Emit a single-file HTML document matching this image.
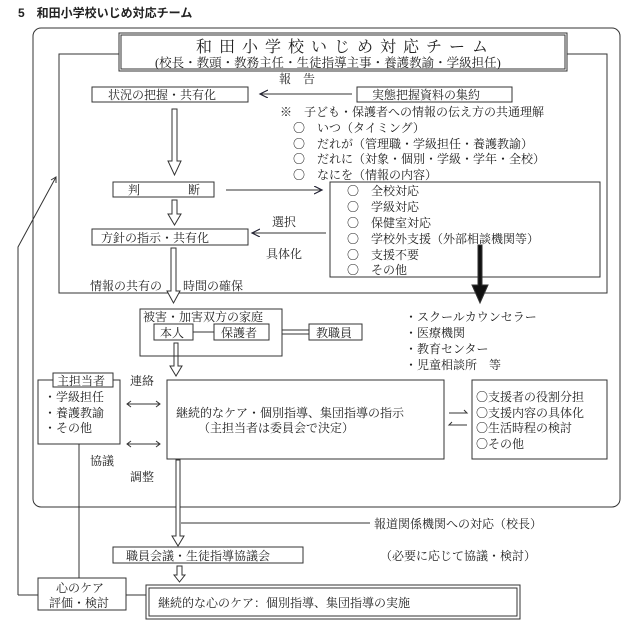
<!DOCTYPE html>
<html><head><meta charset="utf-8"><style>
html,body{margin:0;padding:0;background:#fff;width:640px;height:634px;overflow:hidden}
svg text{font-family:"Liberation Serif","Noto Serif CJK SC","Noto Sans CJK JP",serif;fill:#222;font-size:12px}
</style></head><body>
<svg width="640" height="634" viewBox="0 0 640 634" xmlns="http://www.w3.org/2000/svg">
<defs>
<marker id="ah" markerWidth="10" markerHeight="10" refX="8" refY="4" orient="auto" markerUnits="userSpaceOnUse"><path d="M0,0 L8,4 L0,8" fill="none" stroke="#223" stroke-width="1.2"/></marker>
</defs>
<text x="18" y="17" style="font-family:'Liberation Sans','Noto Sans CJK JP',sans-serif;font-weight:bold;font-size:12px">5　和田小学校いじめ対応チーム</text>
<g fill="none" stroke="#333" stroke-width="1">
<rect x="33" y="28" width="587" height="479" rx="8"/>
<rect x="59" y="54" width="548" height="239" fill="#fff"/>
<rect x="119" y="33" width="448" height="38" fill="#fff"/>
<rect x="121" y="35" width="444" height="34"/>
<rect x="92" y="87" width="156" height="15"/>
<rect x="357" y="87" width="155" height="15"/>
<line x1="352" y1="94" x2="260" y2="94" marker-end="url(#ah)"/>
<rect x="113" y="182" width="101" height="15"/>
<rect x="330" y="182" width="270" height="95"/>
<line x1="226" y1="190" x2="322" y2="190" marker-end="url(#ah)"/>
<rect x="92" y="229" width="156" height="16"/>
<line x1="326" y1="233" x2="252" y2="233" marker-end="url(#ah)"/>
<path d="M172,109 h5 v52 h4 l-6.5,14 l-6.5,-14 h4 z"/>
<path d="M172,200 h5 v14 h4 l-6.5,11 l-6.5,-11 h4 z"/>
<path d="M171,248 h5 v43 h4 l-6.5,12 l-6.5,-12 h4 z" fill="#fff"/>
<path d="M478,245 h4 v40 h6 l-8,18 l-8,-18 h6 z" fill="#111"/>
<rect x="140" y="309" width="142" height="47"/>
<rect x="154" y="324" width="39" height="16"/>
<rect x="214" y="324" width="55" height="16"/>
<line x1="193" y1="332" x2="214" y2="332"/>
<rect x="309" y="324" width="53" height="16"/>
<line x1="282" y1="330" x2="309" y2="330"/><line x1="282" y1="334" x2="309" y2="334"/>
<path d="M174,343 h4 v23 h4 l-6,10 l-6,-10 h4 z"/>
<rect x="38" y="380" width="82" height="64"/>
<rect x="53" y="373" width="60" height="14" fill="#fff"/>
<line x1="127" y1="404" x2="160" y2="404"/><path d="M131,401 l-4,3 l4,3 M156,401 l4,3 l-4,3"/>
<line x1="127" y1="444" x2="160" y2="444"/><path d="M131,441 l-4,3 l4,3 M156,441 l4,3 l-4,3"/>
<rect x="167" y="380" width="277" height="79"/>
<rect x="472" y="380" width="135" height="79"/>
<path d="M449,413 h18 l-3,-3 M467,425 h-18 l3,-3"/>
<line x1="79" y1="444" x2="79" y2="578"/>
<path d="M176,460 h4 v76 h4 l-6,10 l-6,-10 h4 z" fill="#fff"/>
<line x1="181" y1="523" x2="370" y2="523"/>
<rect x="113" y="547" width="190" height="16"/>
<path d="M177,566 h5 v9 h3 l-5.5,7 l-5.5,-7 h3 z"/>
<rect x="38" y="578" width="88" height="32"/>
<line x1="126" y1="595" x2="146" y2="595"/>
<rect x="146" y="585" width="374" height="34"/>
<rect x="149" y="588" width="368" height="28"/>
<path d="M18,595 H38 M18,595 V247 L56,177"/>
<path d="M51,180 l5,-3 l0,6"/>
</g>
<text x="196" y="52" style="font-size:16px;letter-spacing:7px">和田小学校いじめ対応チーム</text>
<text x="155" y="67" style="font-size:12.5px">(校長・教頭・教務主任・生徒指導主事・養護教諭・学級担任)</text>
<text x="279" y="83">報　告</text>
<text x="108" y="99">状況の把握・共有化</text>
<text x="372" y="99">実態把握資料の集約</text>
<text x="280" y="116">※　子ども・保護者への情報の伝え方の共通理解</text>
<text x="293" y="132">〇　いつ（タイミング）</text>
<text x="293" y="148">〇　だれが（管理職・学級担任・養護教諭）</text>
<text x="293" y="163">〇　だれに（対象・個別・学級・学年・全校）</text>
<text x="293" y="179">〇　なにを（情報の内容）</text>
<text x="128" y="194">判</text><text x="188" y="194">断</text>
<text x="347" y="195">〇　全校対応</text>
<text x="347" y="211">〇　学級対応</text>
<text x="347" y="227">〇　保健室対応</text>
<text x="347" y="243">〇　学校外支援（外部相談機関等）</text>
<text x="347" y="259">〇　支援不要</text>
<text x="347" y="274">〇　その他</text>
<text x="272" y="226">選択</text>
<text x="266" y="258">具体化</text>
<text x="101" y="242">方針の指示・共有化</text>
<text x="90" y="290">情報の共有の</text><text x="183" y="290">時間の確保</text>
<text x="143" y="321">被害・加害双方の家庭</text>
<text x="160" y="337">本人</text>
<text x="221" y="337">保護者</text>
<text x="316" y="337">教職員</text>
<text x="405" y="321">・スクールカウンセラー</text>
<text x="405" y="337">・医療機関</text>
<text x="405" y="353">・教育センター</text>
<text x="405" y="369">・児童相談所　等</text>
<text x="57" y="385">主担当者</text>
<text x="44" y="401">・学級担任</text>
<text x="44" y="417">・養護教諭</text>
<text x="44" y="432">・その他</text>
<text x="130" y="385">連絡</text>
<text x="90" y="465">協議</text>
<text x="130" y="481">調整</text>
<text x="176" y="417">継続的なケア・個別指導、集団指導の指示</text>
<text x="198" y="432">（主担当者は委員会で決定）</text>
<text x="476" y="401">〇支援者の役割分担</text>
<text x="476" y="417">〇支援内容の具体化</text>
<text x="476" y="432">〇生活時程の検討</text>
<text x="476" y="448">〇その他</text>
<text x="374" y="528">報道関係機関への対応（校長）</text>
<text x="126" y="560">職員会議・生徒指導協議会</text>
<text x="380" y="560">（必要に応じて協議・検討）</text>
<text x="56" y="592">心のケア</text>
<text x="49" y="607">評価・検討</text>
<text x="158" y="607">継続的な心のケア：個別指導、集団指導の実施</text>
</svg>
</body></html>
